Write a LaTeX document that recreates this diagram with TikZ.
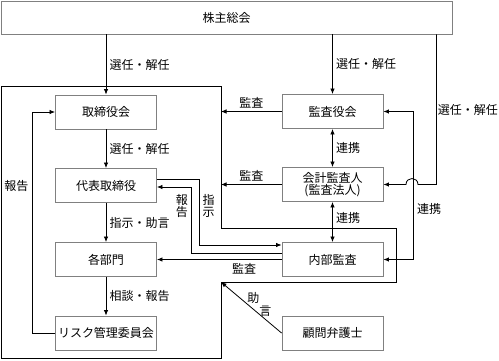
\documentclass[tikz,border=0pt]{standalone}
\usepackage{fontspec}
\setmainfont{Noto Sans CJK JP}
\usetikzlibrary{arrows.meta}

\begin{document}
\begin{tikzpicture}[
            x=1pt, y=-1pt,
            every node/.style={font=\fontsize{12}{12.5}\selectfont, align=center},
            box/.style={draw=gray, line width=0.9pt, minimum width=101pt, minimum height=34pt, inner sep=0pt},
            arr/.style={-{Latex[length=5.5pt,width=4.5pt]}, line width=0.8pt},
            both/.style={{Latex[length=5.5pt,width=4.5pt]}-{Latex[length=5.5pt,width=4.5pt]}, line width=0.8pt}
        ]
        \useasboundingbox (0,0) rectangle (499,360);
        \node[box, minimum width=451pt, minimum height=33pt] (sh) at (226.5,17.5) {株主総会};
        \node[box] (tb) at (106,112) {取締役会};
        \node[box] (dh) at (106,185.5) {代表取締役};
        \node[box] (bm) at (106,259.5) {各部門};
        \node[box] (rk) at (106,333) {リスク管理委員会};
        \node[box] (ka) at (332.5,111.5) {監査役会};
        \node[box] (ak) at (332.5,184.5) {会計監査人\\(監査法人)};
        \node[box] (nb) at (332.5,259.5) {内部監査};
        \node[box] (kb) at (332.5,333) {顧問弁護士};
        \coordinate (c1) at (221,86);
        \coordinate (c4) at (221,282);
        \draw[line width=0.8pt] (1,86) -- (c1) -- (221,228) -- (396,228) -- (396,282) -- (c4) -- (221,358) -- (1,358) -- cycle;
        \draw[arr] (sh.south -| tb) -- node[right]{選任・解任} (tb.north);
        \draw[arr] (sh.south -| ka) -- node[right]{選任・解任} (ka.north);
        \draw[arr] (tb) -- node[right]{選任・解任} (dh);
        \draw[arr] (dh) -- node[right]{指示・助言} (bm);
        \draw[arr] (bm) -- node[right]{相談・報告} (rk);
        \draw[arr] (rk.west) -- ++(-23,0) |- node[left, pos=0.333]{報告} (tb.west);
        \draw[arr] (ka.west) -- node[above]{監査} (ka.west -| c1);
        \draw[arr] (ak.west) -- node[above]{監査} (ak.west -| c1);
        \draw[arr] (nb.west) -- node[below, pos=0.3]{監査} (bm.east);
        \draw[both] (ka) -- node[right]{連携} (ak);
        \draw[both] (ak) -- node[right, pos=0.4]{連携} (nb);
        \draw[both] (ka.east) -- ++(30,0) |- node[right, pos=0.33]{連携} (nb.east);
        \draw[arr] ([xshift=-16pt]sh.south east) |- node[right, pos=0.25, inner sep=1pt]{選任・解任} (418,184.5)
            .. controls (418,176.5) and (406,176.5) .. (406,184.5) -- (ak.east);
        \draw[arr] ([yshift=6.5pt]dh.east) -- ++(42,0) |- node[right, pos=0.205]{指\\示} ([yshift=14.5pt]nb.west);
        \draw[arr] ([yshift=6.5pt]nb.west) -- ++(-90,0) |- node[left, pos=0.356]{報\\告} ([yshift=-1.5pt]dh.east);
        \draw[arr] (kb.west) -- node[xshift=8pt, yshift=3pt, align=left]{助\\\hspace{1em}言} (c4);
    \end{tikzpicture}
\end{document}
